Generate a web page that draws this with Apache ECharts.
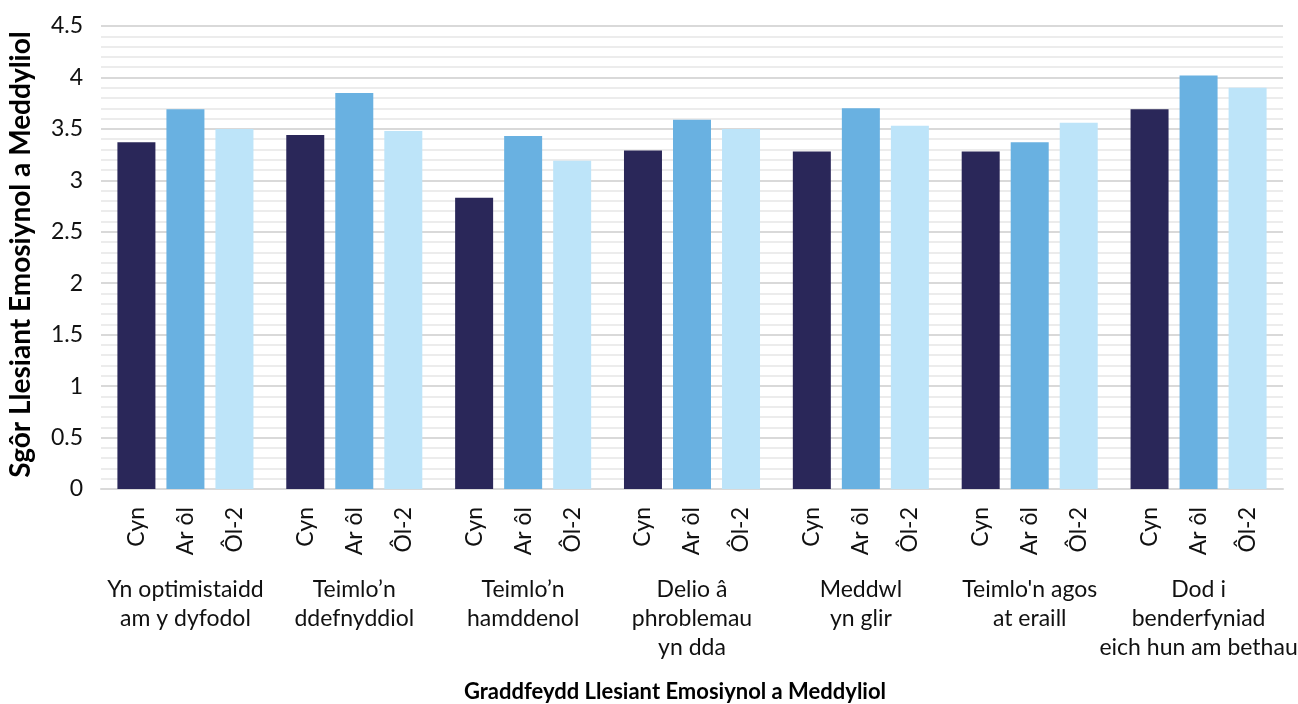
<!DOCTYPE html>
<html>
<head>
<meta charset="utf-8">
<script src="https://cdn.jsdelivr.net/npm/echarts@6/dist/echarts.min.js"></script>
<style>html,body{margin:0;padding:0;background:#fff}#c{width:1298px;height:704px}</style>
</head>
<body>
<div id="c"></div>
<script>
const categories = [
  "Yn optimistaidd\nam y dyfodol",
  "Teimlo’n\nddefnyddiol",
  "Teimlo’n\nhamddenol",
  "Delio â\nphroblemau\nyn dda",
  "Meddwl\nyn glir",
  "Teimlo'n agos\nat eraill",
  "Dod i\nbenderfyniad\neich hun am bethau"
];
const seriesNames = ["Cyn", "Ar ôl", "Ôl-2"];
const cyn  = [3.37, 3.44, 2.83, 3.29, 3.28, 3.28, 3.69];
const arOl = [3.69, 3.85, 3.43, 3.59, 3.70, 3.37, 4.02];
const ol2  = [3.50, 3.48, 3.19, 3.50, 3.53, 3.56, 3.90];
const yTicks = { min: 0, max: 4.5, interval: 0.5 };
const colors = ["#2A2759", "#69B1E1", "#BDE4F9"];
const font = "Lato, 'Open Sans', sans-serif";

const chart = echarts.init(document.getElementById('c'));
const mk = (name, data, color) => ({
  name, type: 'bar', data, barWidth: 38, barGap: '29%',
  itemStyle: { color },
  label: {
    show: true, position: 'bottom', distance: 18, rotate: 90,
    align: 'right', verticalAlign: 'middle',
    formatter: () => name, fontSize: 23, color: '#111', fontFamily: font
  }
});
chart.setOption({
  animation: false,
  textStyle: { fontFamily: font },
  grid: { left: 101, right: 15, top: 26, bottom: 215, outerBoundsMode: 'none', containLabel: false },
  xAxis: {
    type: 'category', data: categories,
    axisLine: { lineStyle: { color: '#d9d9d9', width: 2 } },
    axisTick: { show: false },
    axisLabel: { interval: 0, margin: 86, fontSize: 23, lineHeight: 29, color: '#111', fontFamily: font },
    name: 'Graddfeydd Llesiant Emosiynol a Meddyliol',
    nameLocation: 'middle', nameGap: 192,
    nameTextStyle: { fontSize: 22, fontWeight: 'bold', color: '#000', fontFamily: font, padding: [0, 34, 0, 0] }
  },
  yAxis: {
    type: 'value', min: yTicks.min, max: yTicks.max, interval: yTicks.interval,
    axisLine: { show: false }, axisTick: { show: false },
    axisLabel: { fontSize: 23, color: '#111', margin: 18, fontFamily: font },
    splitLine: { lineStyle: { color: '#d9d9d9', width: 2 } },
    minorTick: { show: false, splitNumber: 5 },
    minorSplitLine: { show: true, lineStyle: { color: '#e6e6e6', width: 1.5 } },
    name: 'Sgôr Llesiant Emosiynol a Meddyliol',
    nameLocation: 'middle', nameGap: 66, nameRotate: 90,
    nameTextStyle: { fontSize: 28, fontWeight: 'bold', color: '#000', fontFamily: font, padding: [0, 0, 0, 6] }
  },
  series: [mk(seriesNames[0], cyn, colors[0]), mk(seriesNames[1], arOl, colors[1]), mk(seriesNames[2], ol2, colors[2])]
});
</script>
</body>
</html>
